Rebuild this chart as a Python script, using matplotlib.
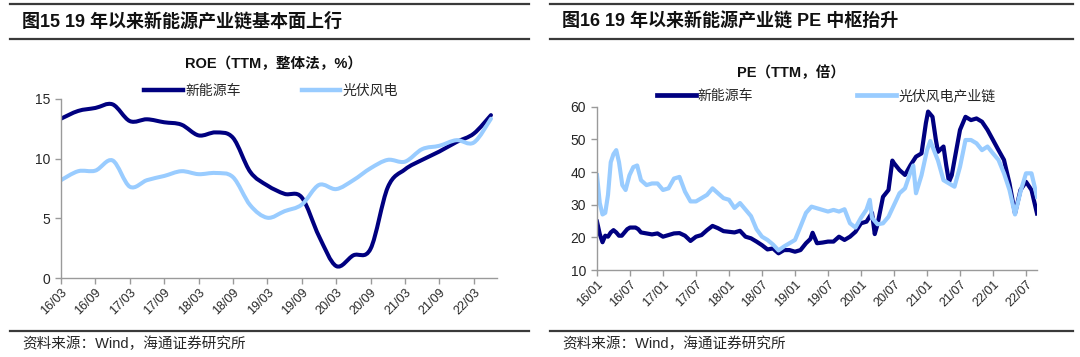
import numpy as np
import matplotlib
matplotlib.use("Agg")
import matplotlib.pyplot as plt
from matplotlib.path import Path
from matplotlib.patches import PathPatch
from matplotlib.lines import Line2D

plt.rcParams['font.family'] = ['Liberation Sans', 'Noto Sans CJK SC', 'DejaVu Sans']

# ---------------- data ----------------
# Left: ROE (TTM, %), quarterly 16/03 .. 22/06
roe_quarters = ['16/03', '16/06', '16/09', '16/12', '17/03', '17/06', '17/09', '17/12',
                '18/03', '18/06', '18/09', '18/12', '19/03', '19/06', '19/09', '19/12',
                '20/03', '20/06', '20/09', '20/12', '21/03', '21/06', '21/09', '21/12',
                '22/03', '22/06']
roe_nev = [13.35, 14.0, 14.25, 14.55, 13.15, 13.3, 13.05, 12.85, 11.95, 12.2, 11.75, 8.9,
           7.75, 7.05, 6.75, 3.5, 1.0, 1.9, 2.45, 7.6, 9.1, 9.9, 10.6, 11.4, 12.1, 13.65]
roe_pv = [8.2, 8.95, 9.0, 9.85, 7.65, 8.2, 8.55, 8.95, 8.7, 8.8, 8.45, 6.1,
          5.05, 5.6, 6.15, 7.8, 7.45, 8.2, 9.2, 9.9, 9.75, 10.8, 11.08, 11.55, 11.35, 13.35]
roe_ticklabels = ['16/03', '16/09', '17/03', '17/09', '18/03', '18/09', '19/03',
                  '19/09', '20/03', '20/09', '21/03', '21/09', '22/03']

# Right: PE (TTM), months since 2016/01
pe_nev_t = [0, 0.5, 1, 1.5, 2, 2.5, 3, 3.5, 4, 4.5, 5, 5.5, 6, 7, 7.5, 8, 9, 10, 11, 12,
            13, 14, 15, 16, 17, 18, 19, 20, 21, 22, 23, 24, 25, 26, 27, 28, 29, 30, 31,
            32, 33, 34, 35, 36, 37, 38, 38.8, 39.2, 40, 41, 42, 43, 44, 45, 46, 47, 48,
            49, 50, 50.5, 51, 52, 53, 53.7, 54, 55, 56, 57, 58, 59, 59.8, 60.2, 61, 61.6,
            62, 63, 63.5, 64, 64.5, 65, 66, 67, 68, 69, 70, 71, 72, 73, 74, 75, 76, 77,
            78, 79, 80]
pe_nev = [24.8, 21.0, 18.5, 20.5, 20.2, 21.5, 22.2, 21.5, 20.5, 20.5, 21.5, 22.5, 23.0,
          23.0, 22.5, 21.5, 21.2, 20.9, 21.2, 20.2, 20.7, 21.2, 21.3, 20.5, 18.9, 20.2,
          20.7, 22.2, 23.5, 22.8, 21.9, 21.7, 21.5, 22.0, 20.2, 19.7, 18.7, 17.6, 16.3,
          16.6, 15.1, 16.1, 16.1, 15.6, 16.1, 18.2, 19.5, 21.4, 18.2, 18.4, 18.7, 18.7,
          20.2, 19.2, 20.2, 21.7, 24.3, 24.8, 27.5, 21.0, 24.0, 32.4, 34.5, 43.5, 42.7,
          40.6, 39.1, 42.1, 44.7, 45.7, 55.0, 58.5, 56.9, 50.0, 46.2, 47.8, 42.0, 37.0,
          39.0, 43.7, 52.9, 56.9, 55.9, 56.4, 55.4, 52.9, 49.8, 46.7, 43.7, 36.5, 27.3,
          34.5, 37.0, 34.5, 27.3]
pe_pv_t = [0, 0.5, 1, 1.5, 2, 2.5, 3, 3.5, 4, 4.6, 5.2, 5.9, 6.6, 7.3, 8, 9, 10, 11, 12,
           13, 14, 15, 16, 17, 18, 19, 20, 21, 22, 23, 24, 25, 26, 27, 28, 29, 30, 31, 32,
           33, 34, 35, 36, 37, 38, 39, 40, 41, 42, 43, 44, 45, 46, 47, 48, 49, 49.6, 50,
           51, 52, 53, 54, 55, 56, 57, 57.5, 58, 59, 60, 60.6, 61, 62, 63, 64, 65, 66, 67,
           68, 69, 70, 71, 72, 73, 74, 75, 76, 77, 78, 79, 80]
pe_pv = [39.0, 30.5, 27.0, 27.5, 33.0, 43.0, 45.5, 46.7, 43.0, 36.0, 34.5, 39.0, 41.5,
         42.0, 37.5, 36.0, 36.5, 36.5, 34.5, 35.0, 38.0, 38.5, 34.0, 31.0, 31.0, 32.0,
         33.0, 35.0, 33.5, 32.0, 31.5, 29.0, 30.5, 28.5, 26.5, 22.5, 20.2, 19.2, 17.8,
         16.0, 17.2, 18.2, 19.2, 23.3, 27.5, 29.4, 28.9, 28.4, 27.9, 28.4, 27.9, 28.6,
         24.3, 23.0, 26.0, 28.5, 31.5, 26.0, 24.0, 24.3, 26.3, 29.9, 33.5, 35.0, 40.0,
         42.0, 33.5, 39.0, 46.7, 49.5, 47.8, 43.5, 37.5, 36.5, 35.5, 41.6, 49.8, 49.8,
         48.8, 46.7, 47.8, 45.7, 43.7, 39.6, 34.5, 27.0, 34.0, 39.6, 39.6, 32.4]
pe_ticklabels = ['16/01', '16/07', '17/01', '17/07', '18/01', '18/07', '19/01',
                 '19/07', '20/01', '20/07', '21/01', '21/07', '22/01', '22/07']

series_names_left = ['新能源车', '光伏风电']
series_names_right = ['新能源车', '光伏风电产业链']

# ---------------- style ----------------
DARK = '#000080'
LIGHT = '#99CCFF'
AXC = '#9A9A9A'
TXT = '#262626'
W, H = 1080, 357

fig = plt.figure(figsize=(W / 100, H / 100), dpi=100)


def px_rect(x0, y0, x1, y1):
    return [x0 / W, 1 - y1 / H, (x1 - x0) / W, (y1 - y0) / H]


def hline(x0, x1, y, lw=1.6, color='#3a3a3a'):
    fig.add_artist(Line2D([x0 / W, x1 / W], [1 - y / H, 1 - y / H], color=color, lw=lw,
                          transform=fig.transFigure))


def smooth_path(xs, ys):
    pts = np.column_stack([xs, ys]).astype(float)
    n = len(pts)
    verts = [pts[0]]
    codes = [Path.MOVETO]
    for i in range(n - 1):
        p0 = pts[i - 1] if i > 0 else pts[i]
        p1 = pts[i]
        p2 = pts[i + 1]
        p3 = pts[i + 2] if i + 2 < n else pts[i + 1]
        verts += [p1 + (p2 - p0) / 6.0, p2 - (p3 - p1) / 6.0, p2]
        codes += [Path.CURVE4] * 3
    return Path(verts, codes)


def style_axes(ax):
    for s in ['top', 'right']:
        ax.spines[s].set_visible(False)
    for s in ['left', 'bottom']:
        ax.spines[s].set_color(AXC)
        ax.spines[s].set_linewidth(1.0)
    ax.tick_params(axis='both', direction='out', length=4, width=1.0, color=AXC,
                   labelcolor=TXT)
    ax.tick_params(axis='y', labelsize=10, pad=4)
    ax.tick_params(axis='x', labelsize=9, pad=2)


def header(x0, x1, title, tx):
    hline(x0, x1, 4)
    hline(x0, x1, 39)
    hline(x0, x1, 331)
    fig.text(tx / W, 1 - 22 / H, title, fontsize=13, fontweight='bold',
             color='#111111', va='center', ha='left')
    fig.text(tx / W, 1 - 344 / H, '资料来源：Wind，海通证券研究所', fontsize=10.5,
             color=TXT, va='center', ha='left')


# ---------------- left chart ----------------
header(10, 529, '图15 19 年以来新能源产业链基本面上行', 22)
axL = fig.add_axes(px_rect(61, 99, 497, 278))
xq = np.arange(len(roe_quarters))
axL.add_patch(PathPatch(smooth_path(xq, roe_nev), fill=False, edgecolor=DARK, lw=2.9,
                        capstyle='round', joinstyle='round'))
axL.add_patch(PathPatch(smooth_path(xq, roe_pv), fill=False, edgecolor=LIGHT, lw=2.9,
                        capstyle='round', joinstyle='round'))
axL.set_xlim(0, 25.35)
axL.set_ylim(0, 15)
axL.set_yticks([0, 5, 10, 15])
tick_pos = [roe_quarters.index(l) for l in roe_ticklabels]
axL.set_xticks(tick_pos)
axL.set_xticklabels(roe_ticklabels, rotation=45, ha='right', rotation_mode='anchor')
style_axes(axL)
fig.text(273 / W, 1 - 64 / H, 'ROE（TTM，整体法，%）', fontsize=10.5, fontweight='bold',
         color='#111111', ha='center', va='center')
hL = [Line2D([], [], color=DARK, lw=3.2), Line2D([], [], color=LIGHT, lw=3.2)]
fig.legend(hL, series_names_left, loc='center', bbox_to_anchor=(271 / W, 1 - 91 / H),
           ncol=2, frameon=False, fontsize=10, handlelength=2.8, handletextpad=0.15,
           columnspacing=4.4, labelcolor=TXT)

# ---------------- right chart ----------------
header(550, 1073, '图16 19 年以来新能源产业链 PE 中枢抬升', 562)
axR = fig.add_axes(px_rect(597, 106.7, 1037, 270))
axR.plot(pe_nev_t, pe_nev, color=DARK, lw=3.0, solid_joinstyle='round')
axR.plot(pe_pv_t, pe_pv, color=LIGHT, lw=3.0, solid_joinstyle='round')
axR.set_xlim(0, 80)
axR.set_ylim(10, 60)
axR.set_yticks([10, 20, 30, 40, 50, 60])
axR.set_xticks(np.arange(len(pe_ticklabels)) * 6)
axR.set_xticklabels(pe_ticklabels, rotation=45, ha='right', rotation_mode='anchor')
style_axes(axR)
fig.text(791 / W, 1 - 73 / H, 'PE（TTM，倍）', fontsize=10.5, fontweight='bold',
         color='#111111', ha='center', va='center')
hR = [Line2D([], [], color=DARK, lw=3.4), Line2D([], [], color=LIGHT, lw=3.4)]
fig.legend(hR, series_names_right, loc='center', bbox_to_anchor=(826 / W, 1 - 96 / H),
           ncol=2, frameon=False, fontsize=10, handlelength=2.8, handletextpad=0.15,
           columnspacing=7.5, labelcolor=TXT)

fig.savefig('out.png', dpi=100)
